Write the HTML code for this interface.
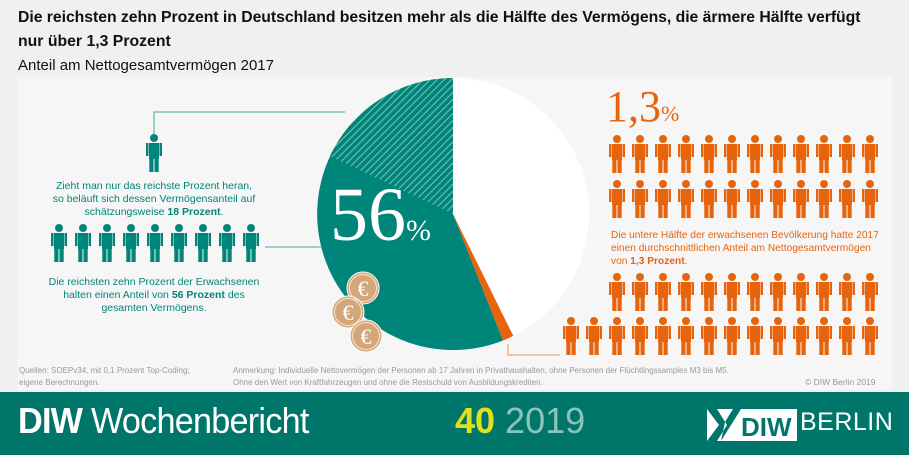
<!DOCTYPE html>
<html><head><meta charset="utf-8"><style>
body{margin:0;width:909px;height:455px;background:#f0f0f0;position:relative;overflow:hidden;font-family:"Liberation Sans",sans-serif}
.t{position:absolute;white-space:nowrap}
</style></head><body>
<div class="t" style="left:18px;top:9px;font-size:15.8px;font-weight:bold;color:#111;letter-spacing:-0.05px">Die reichsten zehn Prozent in Deutschland besitzen mehr als die Hälfte des Vermögens, die ärmere Hälfte verfügt</div>
<div class="t" style="left:18px;top:33px;font-size:15.8px;font-weight:bold;color:#111">nur über 1,3 Prozent</div>
<div class="t" style="left:18px;top:57px;font-size:15px;color:#111">Anteil am Nettogesamtvermögen 2017</div>
<div style="position:absolute;left:18px;top:77px;width:874px;height:313px;background:#f6f6f6"></div>
<svg style="position:absolute;left:0;top:0" width="909" height="455">
<defs>
<symbol id="p" viewBox="0 0 16 38" width="16" height="38">
<circle cx="8" cy="4" r="4"/>
<rect x="3" y="9" width="10" height="16"/>
<rect x="0" y="9" width="2.5" height="13"/>
<rect x="13.5" y="9" width="2.5" height="13"/>
<rect x="3.3" y="24" width="4.2" height="14"/>
<rect x="8.5" y="24" width="4.2" height="14"/>
</symbol>
<g id="r1"><use href="#p" x="609" y="0"/><use href="#p" x="632" y="0"/><use href="#p" x="655" y="0"/><use href="#p" x="678" y="0"/><use href="#p" x="701" y="0"/><use href="#p" x="724" y="0"/><use href="#p" x="747" y="0"/><use href="#p" x="770" y="0"/><use href="#p" x="793" y="0"/><use href="#p" x="816" y="0"/><use href="#p" x="839" y="0"/><use href="#p" x="862" y="0"/></g>
<pattern id="h" width="5" height="5" patternUnits="userSpaceOnUse" patternTransform="rotate(45)">
<rect width="5" height="5" fill="#00857a"/><rect width="1" height="5" fill="#7fc2bb"/>
</pattern>
</defs>
<polyline points="154,134 154,112 345,112" fill="none" stroke="#7fc2bb" stroke-width="1.5"/>
<line x1="265" y1="247" x2="330" y2="247" stroke="#7fc2bb" stroke-width="1.5"/>
<polyline points="508,344 508,355 560,355" fill="none" stroke="#f0b38a" stroke-width="1.5"/>
<circle cx="453" cy="214" r="136" fill="#fff"/>
<path d="M453,214 L453,78 A136,136 0 1,0 503.1,340.5 Z" fill="#00857a"/>
<path d="M453,214 L453,78 A136,136 0 0,0 329.9,156.1 Z" fill="url(#h)"/>
<path d="M453,214 L503.1,340.5 A136,136 0 0,0 513.3,335.9 Z" fill="#e8640c"/>
<g fill="#d4a77a" stroke="#fff" stroke-width="1"><circle cx="363" cy="288" r="16"/><circle cx="348" cy="312" r="16"/><circle cx="366" cy="336" r="16"/></g>
<g fill="none" stroke="#f7e6d2" stroke-width="1"><circle cx="363" cy="288" r="13.5"/><circle cx="348" cy="312" r="13.5"/><circle cx="366" cy="336" r="13.5"/></g>
<g fill="#fff" font-family="Liberation Serif,serif" font-size="22" text-anchor="middle"><text x="363" y="296">€</text><text x="348" y="320">€</text><text x="366" y="344">€</text></g>
<g fill="#00857a"><use href="#p" x="146" y="134"/>
<use href="#p" x="51" y="224"/><use href="#p" x="75" y="224"/><use href="#p" x="99" y="224"/><use href="#p" x="123" y="224"/><use href="#p" x="147" y="224"/><use href="#p" x="171" y="224"/><use href="#p" x="195" y="224"/><use href="#p" x="219" y="224"/><use href="#p" x="243" y="224"/></g>
<g fill="#e8640c"><use href="#r1" y="135"/><use href="#r1" y="180"/><use href="#r1" y="273"/><use href="#r1" y="317"/><use href="#p" x="563" y="317"/><use href="#p" x="586" y="317"/></g>
<text x="330" y="240" fill="#fff" font-family="Liberation Serif,serif" font-size="76">56<tspan font-size="30">%</tspan></text>
<text x="606" y="121" fill="#e8640c" font-family="Liberation Serif,serif" font-size="44">1,3<tspan font-size="22">%</tspan></text>
</svg>
<div class="t" style="left:20px;top:180px;width:268px;text-align:center;font-size:10.5px;line-height:13px;color:#00857a;white-space:normal">Zieht man nur das reichste Prozent heran,<br>so beläuft sich dessen Vermögensanteil auf<br>schätzungsweise <b>18 Prozent</b>.</div>
<div class="t" style="left:20px;top:276px;width:268px;text-align:center;font-size:10.5px;line-height:13px;color:#00857a;white-space:normal">Die reichsten zehn Prozent der Erwachsenen<br>halten einen Anteil von <b>56 Prozent</b> des<br>gesamten Vermögens.</div>
<div class="t" style="left:611px;top:229px;font-size:10.2px;line-height:13px;color:#e8640c">Die untere Hälfte der erwachsenen Bevölkerung hatte 2017<br>einen durchschnittlichen Anteil am Nettogesamtvermögen<br>von <b>1,3 Prozent</b>.</div>
<div class="t" style="left:19px;top:365px;font-size:8px;line-height:12px;color:#999">Quellen: SOEPv34, mit 0,1 Prozent Top-Coding;<br>eigene Berechnungen.</div>
<div class="t" style="left:233px;top:365px;font-size:8px;line-height:12px;color:#999">Anmerkung: Individuelle Nettovermögen der Personen ab 17 Jahren in Privathaushalten, ohne Personen der Flüchtlingssamples M3 bis M5.<br>Ohne den Wert von Kraftfahrzeugen und ohne die Restschuld von Ausbildungskrediten.</div>
<div class="t" style="left:805px;top:377px;font-size:8.5px;color:#999">© DIW Berlin 2019</div>
<div style="position:absolute;left:0;top:392px;width:909px;height:63px;background:#00766a"></div>
<div class="t" style="left:18px;top:400px;font-size:36px;color:#fff;letter-spacing:-0.8px;transform:scaleX(0.95);transform-origin:left"><b>DIW</b> Wochenbericht</div>
<div class="t" style="left:455px;top:400px;font-size:36px;color:#8cc4bc"><b style="color:#e1e11a">40</b> 2019</div>
<svg style="position:absolute;left:707px;top:409px" width="90" height="32"><rect width="90" height="32" fill="#fff"/><path d="M0,0 L10,0 L20,16 L10,32 L0,32 L12,16 Z M14,32 L24,16 L34,0 L26,0 L18,13" fill="#00766a"/><text x="34" y="27" font-family="Liberation Sans,sans-serif" font-weight="bold" font-size="26" fill="#00766a">DIW</text></svg>
<div class="t" style="left:800px;top:408px;font-size:25px;color:#fff;letter-spacing:0.5px">BERLIN</div>
</body></html>
